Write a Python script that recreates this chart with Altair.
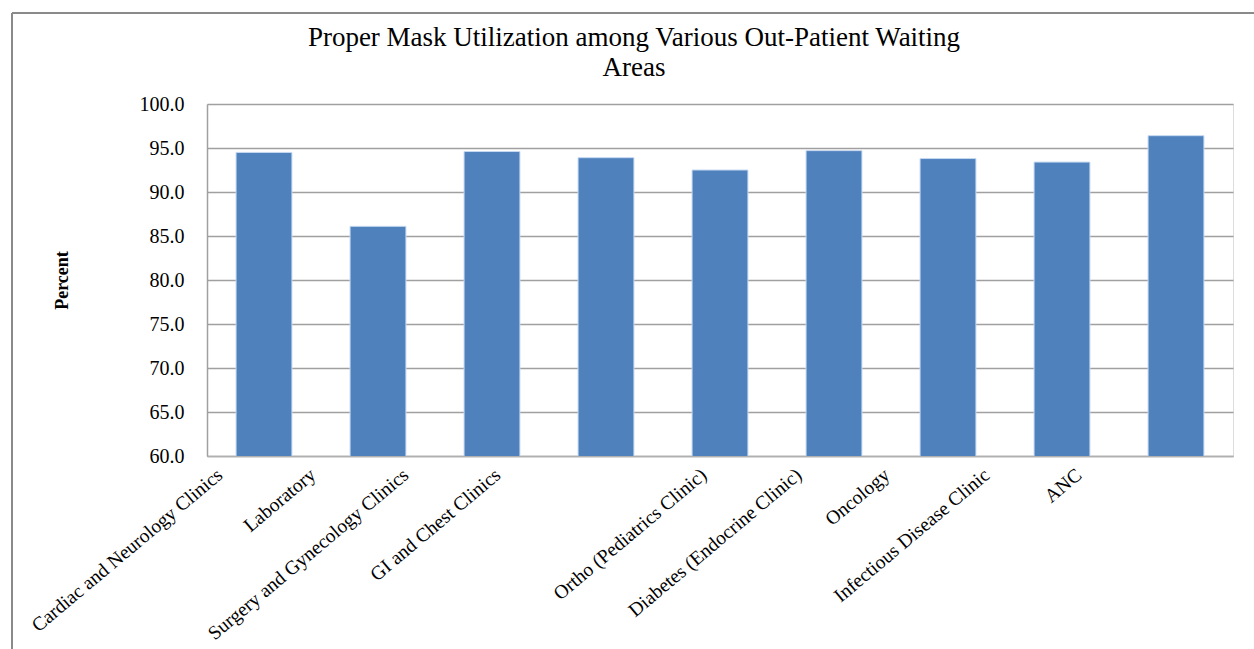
import altair as alt
import pandas as pd

categories = [
    "Cardiac and Neurology Clinics",
    "Laboratory",
    "Surgery and Gynecology Clinics",
    "GI and Chest Clinics",
    "Ortho (Pediatrics Clinic)",
    "Diabetes (Endocrine Clinic)",
    "Oncology",
    "Infectious Disease Clinic",
    "ANC",
]
values = [94.5, 86.1, 94.6, 93.9, 92.5, 94.7, 93.8, 93.4, 96.4]
y_ticks = [60, 65, 70, 75, 80, 85, 90, 95, 100]
label_shift = [-44, -65, -86, -108, -16, -35, -61, -75, -97]

df = pd.DataFrame({"area": categories, "pct": values})

SERIF = "Liberation Serif"

offset_cond = {
    "condition": [
        {"test": f"datum.value === '{c}'", "value": s}
        for c, s in zip(categories[1:], label_shift[1:])
    ],
    "value": label_shift[0],
}

bars = alt.Chart(df).mark_bar(
    color="#4f81bd", stroke="#c6d9f1", strokeWidth=1, clip=True
).encode(
    x=alt.X(
        "area:N",
        sort=categories,
        scale=alt.Scale(paddingInner=0.51, paddingOuter=0.255),
        axis=alt.Axis(
            title=None,
            labelAngle=-40,
            labelAlign="right",
            labelBaseline="middle",
            labelFont=SERIF,
            labelFontSize=19.5,
            labelColor="#000000",
            labelPadding=16,
            labelOffset=offset_cond,
            ticks=False,
            domainColor="#b0b0b0",
            domainWidth=1.5,
            labelLimit=400,
        ),
    ),
    y=alt.Y(
        "pct:Q",
        scale=alt.Scale(domain=[60, 100], nice=False, zero=False),
        axis=alt.Axis(
            title="Percent",
            values=y_ticks,
            format=".1f",
            labelFont=SERIF,
            labelFontSize=20,
            labelColor="#000000",
            labelPadding=23,
            ticks=False,
            domainColor="#a0a0a0",
            domainWidth=1.5,
            gridColor="#a0a0a0",
            gridWidth=1.5,
            titleFont=SERIF,
            titleFontSize=18,
            titleFontWeight="bold",
            titleColor="#000000",
            titleX=-145,
            titleY=176,
            titleAngle=270,
            titleAlign="center",
            titleBaseline="middle",
        ),
    ),
)

border_top = alt.Chart(df).mark_rule(color="#8a8a8a", strokeWidth=2).encode(
    x=alt.value(-195), x2=alt.value(1047), y=alt.value(-91)
)
border_left = alt.Chart(df).mark_rule(color="#8a8a8a", strokeWidth=2).encode(
    x=alt.value(-195), y=alt.value(-91), y2=alt.value(545)
)

chart = (
    alt.layer(bars, border_top, border_left)
    .properties(
        width=1026,
        height=352,
        title=alt.TitleParams(
            text=["Proper Mask Utilization among Various Out-Patient Waiting", "Areas"],
            font=SERIF,
            fontSize=27,
            fontWeight="normal",
            color="#000000",
            anchor="middle",
            frame="group",
            dx=-86,
            dy=92,
            offset=22,
            lineHeight=30,
        ),
        autosize=alt.AutoSizeParams(type="none"),
        padding={"left": 207, "top": 104, "right": 21, "bottom": 193},
    )
    .configure_view(stroke=None)
    .configure(background="white")
)

chart.save("out.html", embed_options={"renderer": "svg", "actions": False})
